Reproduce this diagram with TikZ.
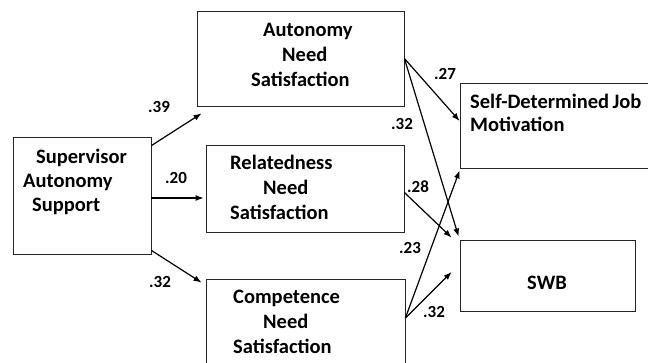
\documentclass[tikz,border=0pt]{standalone}
\usepackage{fontspec}
\setmainfont{Carlito}
\usetikzlibrary{arrows.meta}
\tikzset{
  box/.style={draw=black!85,line width=.8pt,inner sep=0pt,minimum width=#1},
  box/.default=200pt,
  txt/.style={anchor=base west,align=left,inner sep=0pt,font=\fontsize{20.5}{25}\selectfont\bfseries},
  coef/.style={inner sep=0pt,font=\fontsize{17}{20}\selectfont\bfseries},
  path/.style={line width=1.2pt,-{Latex[length=8pt,width=6pt]}}
}
\begin{document}
\begin{tikzpicture}[x=1pt,y=-1pt]
\useasboundingbox (0,0) rectangle (648,363);
\clip (0,0) rectangle (648,363);
% boxes
\node[box=138pt,minimum height=117pt] (sup) at (82,195.5) {};
\node[box=207pt,minimum height=95pt] (aut) at (300.5,58.5) {};
\node[box=198pt,minimum height=87pt] (rel) at (305,188.5) {};
\node[box=199pt,minimum height=96pt] (com) at (305.5,327) {};
\node[box=200pt,minimum height=85pt] (sdm) at (560,125.5) {};
\node[box=175pt,minimum height=71pt] (swb) at (547.5,275.5) {};
% texts (anchored at the baseline of the last line)
\node[txt,font=\fontsize{20.5}{24}\selectfont\bfseries] (suptxt) at (23,211.5) {\hspace*{13pt}Supervisor\\Autonomy\\\hspace*{9pt}Support};
\node[txt] (auttxt) at (251,86.5) {\hspace*{12pt}Autonomy\\\hspace*{31pt}Need\\Satisfaction};
\node[txt] (reltxt) at (230,219.5) {Relatedness\\\hspace*{33pt}Need\\Satisfaction};
\node[txt] (comtxt) at (233,353.5) {Competence\\\hspace*{30pt}Need\\Satisfaction};
\node[txt,font=\fontsize{20.5}{23}\selectfont\bfseries] (sdmtxt) at (470,131.5) {Self-Determined\,Job\\Motivation};
\node[txt,anchor=center] (swbtxt) at (547,283) {SWB};
% paths
\draw[path] ([yshift=-9pt]sup.north east) -- ([xshift=5pt,yshift=-7pt]aut.south west);
\draw[path,shorten >=2pt] ([yshift=-2.5pt]sup.east) -- ([yshift=-2.5pt]sup.east -| rel.west);
\draw[path] ([yshift=4pt]sup.south east) -- ([xshift=-4pt,yshift=-4pt]com.north west);
\draw[path] (aut.east) -- ([yshift=4.5pt]sdm.west);
\draw[path] (aut.east) -- ([xshift=-1pt,yshift=3pt]swb.north west);
\draw[path] ([yshift=-4pt]rel.east) -- ([xshift=-8pt,yshift=2pt]swb.north west);
\draw[path] ([yshift=9pt]com.east) -- ([yshift=-2pt]sdm.south west);
\draw[path] ([yshift=9pt]com.east) -- ([xshift=-8pt,yshift=3.5pt]swb.west);
% coefficients
\node[coef] (c1) at (159,106.5) {.39};
\node[coef] (c2) at (176,177.5) {.20};
\node[coef] (c3) at (160,282) {.32};
\node[coef] (c4) at (445,74) {.27};
\node[coef] (c5) at (402,124) {.32};
\node[coef] (c6) at (418,187) {.28};
\node[coef] (c7) at (410,248) {.23};
\node[coef] (c8) at (434,312) {.32};
\end{tikzpicture}
\end{document}
